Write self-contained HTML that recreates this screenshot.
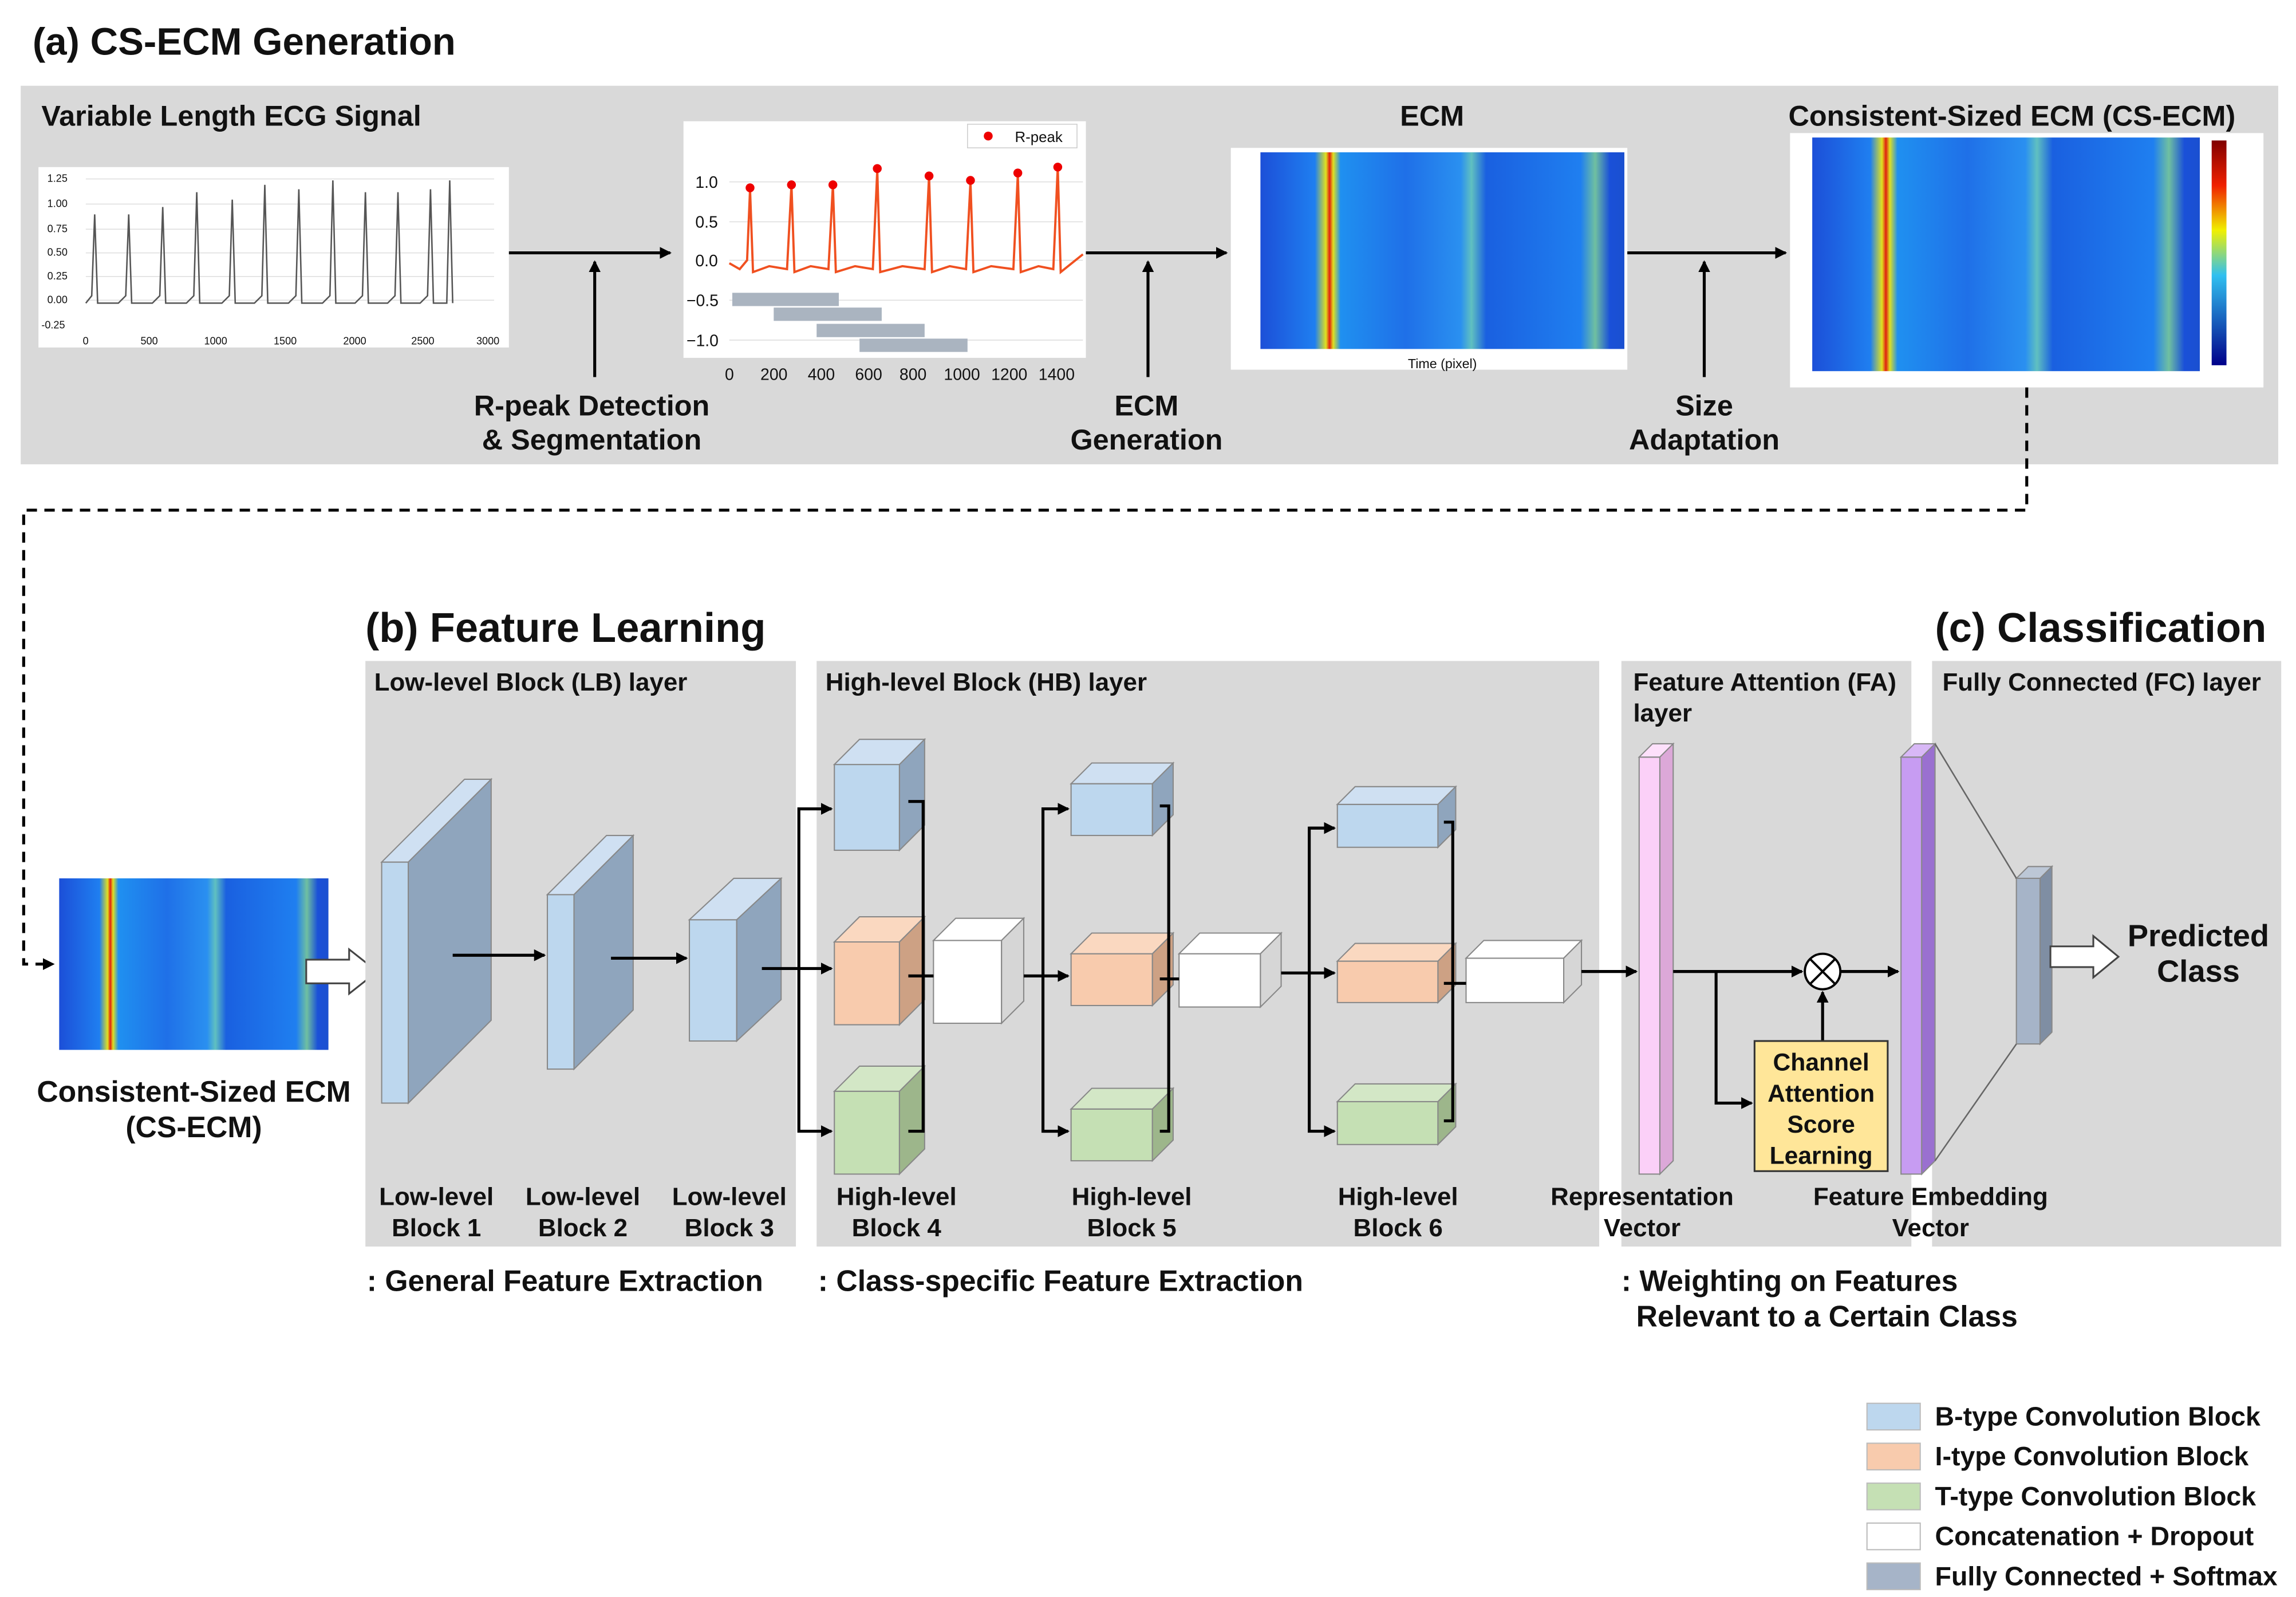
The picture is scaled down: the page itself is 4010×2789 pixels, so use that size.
<!DOCTYPE html>
<html><head><meta charset="utf-8"><style>
html,body{margin:0;padding:0;background:#fff}
svg{display:block}
text{font-family:"Liberation Sans",sans-serif;font-weight:bold;fill:#111}
</style></head><body>
<svg width="4010" height="2789" viewBox="0 0 1552 1080" preserveAspectRatio="none" xmlns="http://www.w3.org/2000/svg">
<defs>
<marker id="ah" markerWidth="8" markerHeight="8" refX="7" refY="4" orient="auto" markerUnits="userSpaceOnUse"><path d="M0,0 L8,4 L0,8 z" fill="#000"/></marker>
<linearGradient id="ecm" x1="0" x2="1" y1="0" y2="0">
<stop offset="0" stop-color="#1c4fd8"/><stop offset="0.15" stop-color="#1f7ff0"/>
<stop offset="0.18" stop-color="#e0e020"/><stop offset="0.19" stop-color="#e02010"/><stop offset="0.2" stop-color="#e0e020"/><stop offset="0.22" stop-color="#1f90f0"/>
<stop offset="0.4" stop-color="#1f70e8"/><stop offset="0.55" stop-color="#2a90f0"/>
<stop offset="0.58" stop-color="#60c0c0"/><stop offset="0.62" stop-color="#1a60e0"/>
<stop offset="0.88" stop-color="#1f7ff0"/><stop offset="0.92" stop-color="#70c0a0"/><stop offset="0.96" stop-color="#1a50d8"/><stop offset="1" stop-color="#1a50d0"/>
</linearGradient>
<linearGradient id="cbar" x1="0" x2="0" y1="0" y2="1">
<stop offset="0" stop-color="#800000"/><stop offset="0.2" stop-color="#f02000"/><stop offset="0.4" stop-color="#f0f000"/><stop offset="0.6" stop-color="#30c0f0"/><stop offset="1" stop-color="#00008a"/>
</linearGradient>
</defs>

<text x="22" y="37" font-size="26">(a) CS-ECM Generation</text>
<rect x="14" y="58" width="1526" height="256" fill="#d9d9d9"/>
<text x="28" y="85" font-size="19.5">Variable Length ECG Signal</text>
<rect x="26" y="113" width="318" height="122" fill="#fff"/>
<g stroke="#ddd" stroke-width="0.6"><line x1="58" y1="121" x2="334" y2="121"/><line x1="58" y1="138" x2="334" y2="138"/><line x1="58" y1="155" x2="334" y2="155"/><line x1="58" y1="171" x2="334" y2="171"/><line x1="58" y1="187" x2="334" y2="187"/><line x1="58" y1="203" x2="334" y2="203"/></g>
<polyline fill="none" stroke="#555" stroke-width="1" points="58,205 62,200 64,145 66,205 80,205 85,200 87,145 89,205 103,205 108,200 110,140 112,205 126,205 131,200 133,130 135,205 150,205 155,200 157,135 159,205 172,205 177,200 179,125 181,205 195,205 200,200 202,128 204,205 218,205 223,200 225,122 227,205 240,205 245,200 247,130 249,205 262,205 267,200 269,130 271,205 284,205 289,200 291,128 293,205 302,205 304,122 306,205"/>
<g font-size="7"><text x="32" y="123" style="font-weight:normal">1.25</text><text x="32" y="140" style="font-weight:normal">1.00</text><text x="32" y="157" style="font-weight:normal">0.75</text><text x="32" y="173" style="font-weight:normal">0.50</text><text x="32" y="189" style="font-weight:normal">0.25</text><text x="32" y="205" style="font-weight:normal">0.00</text><text x="28" y="222" style="font-weight:normal">-0.25</text>
<text x="56" y="233" style="font-weight:normal">0</text><text x="95" y="233" style="font-weight:normal">500</text><text x="138" y="233" style="font-weight:normal">1000</text><text x="185" y="233" style="font-weight:normal">1500</text><text x="232" y="233" style="font-weight:normal">2000</text><text x="278" y="233" style="font-weight:normal">2500</text><text x="322" y="233" style="font-weight:normal">3000</text></g>

<rect x="462" y="82" width="272" height="160" fill="#fff"/>
<rect x="654" y="84" width="74" height="16" fill="#fff" stroke="#ccc" stroke-width="0.6"/>
<circle cx="668" cy="92" r="3" fill="#e00"/><text x="686" y="96" font-size="10" style="font-weight:normal">R-peak</text>
<g stroke="#ddd" stroke-width="0.6"><line x1="493" y1="123" x2="732" y2="123"/><line x1="493" y1="150" x2="732" y2="150"/><line x1="493" y1="176" x2="732" y2="176"/><line x1="493" y1="203" x2="732" y2="203"/><line x1="493" y1="230" x2="732" y2="230"/></g>
<polyline fill="none" stroke="#f05020" stroke-width="1.5" points="493,178 500,182 505,176 507,128 509,184 520,180 532,182 535,125 537,184 548,180 560,182 563,125 565,184 578,180 590,182 593,115 595,184 610,180 625,182 628,119 630,184 642,180 653,182 656,123 658,184 670,180 685,182 688,118 690,184 702,180 712,182 715,113 717,184 732,172"/>
<g fill="#e00"><circle cx="507" cy="127" r="3"/><circle cx="535" cy="125" r="3"/><circle cx="563" cy="125" r="3"/><circle cx="593" cy="114" r="3"/><circle cx="628" cy="119" r="3"/><circle cx="656" cy="122" r="3"/><circle cx="688" cy="117" r="3"/><circle cx="715" cy="113" r="3"/></g>
<g fill="#aab4c0"><rect x="495" y="198" width="72" height="9"/><rect x="523" y="208" width="73" height="9"/><rect x="552" y="219" width="73" height="9"/><rect x="581" y="229" width="73" height="9"/></g>
<g font-size="11"><text x="470" y="127" style="font-weight:normal">1.0</text><text x="470" y="154" style="font-weight:normal">0.5</text><text x="470" y="180" style="font-weight:normal">0.0</text><text x="464" y="207" style="font-weight:normal">−0.5</text><text x="464" y="234" style="font-weight:normal">−1.0</text>
<text x="490" y="257" style="font-weight:normal">0</text><text x="514" y="257" style="font-weight:normal">200</text><text x="546" y="257" style="font-weight:normal">400</text><text x="578" y="257" style="font-weight:normal">600</text><text x="608" y="257" style="font-weight:normal">800</text><text x="638" y="257" style="font-weight:normal">1000</text><text x="670" y="257" style="font-weight:normal">1200</text><text x="702" y="257" style="font-weight:normal">1400</text></g>

<text x="968" y="85" font-size="19.5" text-anchor="middle">ECM</text>
<rect x="832" y="100" width="268" height="150" fill="#fff"/>
<rect x="852" y="103" width="246" height="133" fill="url(#ecm)"/>
<text x="975" y="249" font-size="9" text-anchor="middle" style="font-weight:normal">Time (pixel)</text>

<text x="1360" y="85" font-size="19.5" text-anchor="middle">Consistent-Sized ECM (CS-ECM)</text>
<rect x="1210" y="90" width="320" height="172" fill="#fff"/>
<rect x="1225" y="93" width="262" height="158" fill="url(#ecm)"/>
<rect x="1495" y="95" width="10" height="152" fill="url(#cbar)"/>

<g stroke="#000" stroke-width="2" fill="none">
<line x1="344" y1="171" x2="453" y2="171" marker-end="url(#ah)"/>
<line x1="402" y1="255" x2="402" y2="177" marker-end="url(#ah)"/>
<line x1="734" y1="171" x2="829" y2="171" marker-end="url(#ah)"/>
<line x1="776" y1="255" x2="776" y2="177" marker-end="url(#ah)"/>
<line x1="1100" y1="171" x2="1207" y2="171" marker-end="url(#ah)"/>
<line x1="1152" y1="255" x2="1152" y2="177" marker-end="url(#ah)"/>
</g>
<g font-size="19.5" text-anchor="middle">
<text x="400" y="281">R-peak Detection</text><text x="400" y="304">&amp; Segmentation</text>
<text x="775" y="281">ECM</text><text x="775" y="304">Generation</text>
<text x="1152" y="281">Size</text><text x="1152" y="304">Adaptation</text>
</g>

<polyline points="1370,262 1370,345 16,345 16,652 36,652" fill="none" stroke="#000" stroke-width="2" stroke-dasharray="7,5" marker-end="url(#ah)"/>
<rect x="40" y="594" width="182" height="116" fill="url(#ecm)"/>
<text x="131" y="745" font-size="20" text-anchor="middle">Consistent-Sized ECM</text>
<text x="131" y="769" font-size="20" text-anchor="middle">(CS-ECM)</text>
<polygon points="207,649 236,649 236,642 255,657 236,672 236,665 207,665" fill="#fff" stroke="#444" stroke-width="1.2"/>

<text x="247" y="434" font-size="28">(b) Feature Learning</text>
<text x="1308" y="434" font-size="28">(c) Classification</text>
<rect x="247" y="447" width="291" height="396" fill="#d9d9d9"/>
<rect x="552" y="447" width="529" height="396" fill="#d9d9d9"/>
<rect x="1096" y="447" width="196" height="396" fill="#d9d9d9"/>
<rect x="1306" y="447" width="236" height="396" fill="#d9d9d9"/>
<g font-size="17">
<text x="253" y="467">Low-level Block (LB) layer</text>
<text x="558" y="467">High-level Block (HB) layer</text>
<text x="1104" y="467">Feature Attention (FA)</text><text x="1104" y="488">layer</text>
<text x="1313" y="467">Fully Connected (FC) layer</text>
</g>

<g stroke="#888" stroke-width="0.8">
<rect x="258" y="583" width="18" height="163" fill="#bdd7ee"/>
<polygon points="258,583 314,527 332,527 276,583" fill="#cfe0f2"/>
<polygon points="276,583 332,527 332,690 276,746" fill="#8fa5bd"/>
<rect x="370" y="605" width="18" height="118" fill="#bdd7ee"/>
<polygon points="370,605 410,565 428,565 388,605" fill="#cfe0f2"/>
<polygon points="388,605 428,565 428,683 388,723" fill="#8fa5bd"/>
<rect x="466" y="622" width="32" height="82" fill="#bdd7ee"/>
<polygon points="466,622 496,594 528,594 498,622" fill="#cfe0f2"/>
<polygon points="498,622 528,594 528,676 498,704" fill="#8fa5bd"/>
</g>

<g stroke="#888" stroke-width="0.8">
<rect x="564" y="517" width="44" height="58" fill="#bdd7ee"/><polygon points="564,517 581,500 625,500 608,517" fill="#cfe0f2"/><polygon points="608,517 625,500 625,558 608,575" fill="#8fa5bd"/>
<rect x="564" y="637" width="44" height="56" fill="#f8cbad"/><polygon points="564,637 581,620 625,620 608,637" fill="#fad8c0"/><polygon points="608,637 625,620 625,676 608,693" fill="#cda184"/>
<rect x="564" y="738" width="44" height="56" fill="#c5e0b4"/><polygon points="564,738 581,721 625,721 608,738" fill="#d3e7c6"/><polygon points="608,738 625,721 625,777 608,794" fill="#9db68b"/>
<rect x="631" y="636" width="46" height="56" fill="#fff"/><polygon points="631,636 646,621 692,621 677,636" fill="#fff"/><polygon points="677,636 692,621 692,677 677,692" fill="#d6d6d6"/>
<rect x="724" y="530" width="55" height="35" fill="#bdd7ee"/><polygon points="724,530 738,516 793,516 779,530" fill="#cfe0f2"/><polygon points="779,530 793,516 793,551 779,565" fill="#8fa5bd"/>
<rect x="724" y="645" width="55" height="35" fill="#f8cbad"/><polygon points="724,645 738,631 793,631 779,645" fill="#fad8c0"/><polygon points="779,645 793,631 793,666 779,680" fill="#cda184"/>
<rect x="724" y="750" width="55" height="35" fill="#c5e0b4"/><polygon points="724,750 738,736 793,736 779,750" fill="#d3e7c6"/><polygon points="779,750 793,736 793,771 779,785" fill="#9db68b"/>
<rect x="797" y="645" width="55" height="36" fill="#fff"/><polygon points="797,645 811,631 866,631 852,645" fill="#fff"/><polygon points="852,645 866,631 866,667 852,681" fill="#d6d6d6"/>
<rect x="904" y="544" width="68" height="29" fill="#bdd7ee"/><polygon points="904,544 916,532 984,532 972,544" fill="#cfe0f2"/><polygon points="972,544 984,532 984,561 972,573" fill="#8fa5bd"/>
<rect x="904" y="650" width="68" height="28" fill="#f8cbad"/><polygon points="904,650 916,638 984,638 972,650" fill="#fad8c0"/><polygon points="972,650 984,638 984,666 972,678" fill="#cda184"/>
<rect x="904" y="745" width="68" height="29" fill="#c5e0b4"/><polygon points="904,745 916,733 984,733 972,745" fill="#d3e7c6"/><polygon points="972,745 984,733 984,762 972,774" fill="#9db68b"/>
<rect x="991" y="648" width="66" height="30" fill="#fff"/><polygon points="991,648 1003,636 1069,636 1057,648" fill="#fff"/><polygon points="1057,648 1069,636 1069,666 1057,678" fill="#d6d6d6"/>
<rect x="1108" y="512" width="14" height="282" fill="#fbd0f8"/><polygon points="1108,512 1117,503 1131,503 1122,512" fill="#fde0fb"/><polygon points="1122,512 1131,503 1131,785 1122,794" fill="#dca8d8"/>
<rect x="1285" y="512" width="14" height="282" fill="#c79cf2"/><polygon points="1285,512 1294,503 1308,503 1299,512" fill="#d8b8f6"/><polygon points="1299,512 1308,503 1308,785 1299,794" fill="#9a70d0"/>
<rect x="1363" y="594" width="16" height="112" fill="#a6b4c8"/><polygon points="1363,594 1371,586 1387,586 1379,594" fill="#bcc7d6"/><polygon points="1379,594 1387,586 1387,698 1379,706" fill="#7f8ea3"/>
</g>
<g stroke="#666" stroke-width="1"><line x1="1308" y1="503" x2="1363" y2="594"/><line x1="1308" y1="785" x2="1363" y2="706"/></g>

<g stroke="#000" stroke-width="2" fill="none">
<line x1="306" y1="646" x2="368" y2="646" marker-end="url(#ah)"/>
<line x1="413" y1="648" x2="464" y2="648" marker-end="url(#ah)"/>
<line x1="515" y1="655" x2="562" y2="655" marker-end="url(#ah)"/>
<polyline points="562,547 540,547 540,765 562,765" marker-end="url(#ah)"/>
<line x1="540" y1="547" x2="562" y2="547" marker-end="url(#ah)"/>
<polyline points="614,542 624,542 624,765 614,765"/><line x1="614" y1="660" x2="631" y2="660"/>
<line x1="692" y1="660" x2="722" y2="660" marker-end="url(#ah)"/>
<polyline points="722,765 705,765 705,547 722,547" marker-end="url(#ah)"/>
<line x1="705" y1="765" x2="722" y2="765" marker-end="url(#ah)"/>
<polyline points="784,545 790,545 790,765 784,765"/><line x1="784" y1="662" x2="797" y2="662"/>
<line x1="866" y1="658" x2="902" y2="658" marker-end="url(#ah)"/>
<polyline points="902,560 885,560 885,765 902,765" marker-end="url(#ah)"/>
<line x1="885" y1="560" x2="902" y2="560" marker-end="url(#ah)"/>
<polyline points="976,556 982,556 982,758 976,758"/><line x1="976" y1="665" x2="991" y2="665"/>
<line x1="1069" y1="657" x2="1106" y2="657" marker-end="url(#ah)"/>
<line x1="1131" y1="657" x2="1218" y2="657" marker-end="url(#ah)"/>
<polyline points="1160,657 1160,746 1184,746" marker-end="url(#ah)"/>
<line x1="1244" y1="657" x2="1283" y2="657" marker-end="url(#ah)"/>
<line x1="1232" y1="704" x2="1232" y2="671" marker-end="url(#ah)"/>
<circle cx="1232" cy="657" r="12" fill="#fff" stroke-width="1.5"/>
<line x1="1224" y1="649" x2="1240" y2="665" stroke-width="1.5"/><line x1="1240" y1="649" x2="1224" y2="665" stroke-width="1.5"/>
</g>
<rect x="1186" y="704" width="90" height="88" fill="#ffe699" stroke="#333" stroke-width="1.2"/>
<g font-size="16.5" text-anchor="middle"><text x="1231" y="724">Channel</text><text x="1231" y="745">Attention</text><text x="1231" y="766">Score</text><text x="1231" y="787">Learning</text></g>
<polygon points="1386,640 1415,640 1415,633 1432,647 1415,661 1415,654 1386,654" fill="#fff" stroke="#444" stroke-width="1.2"/>
<g font-size="21" text-anchor="middle"><text x="1486" y="640">Predicted</text><text x="1486" y="664">Class</text></g>

<g font-size="17" text-anchor="middle">
<text x="295" y="815">Low-level</text><text x="295" y="836">Block 1</text>
<text x="394" y="815">Low-level</text><text x="394" y="836">Block 2</text>
<text x="493" y="815">Low-level</text><text x="493" y="836">Block 3</text>
<text x="606" y="815">High-level</text><text x="606" y="836">Block 4</text>
<text x="765" y="815">High-level</text><text x="765" y="836">Block 5</text>
<text x="945" y="815">High-level</text><text x="945" y="836">Block 6</text>
<text x="1110" y="815">Representation</text><text x="1110" y="836">Vector</text>
<text x="1305" y="815">Feature Embedding</text><text x="1305" y="836">Vector</text>
</g>
<g font-size="20">
<text x="248" y="873">: General Feature Extraction</text>
<text x="553" y="873">: Class-specific Feature Extraction</text>
<text x="1096" y="873">: Weighting on Features</text>
<text x="1106" y="897">Relevant to a Certain Class</text>
</g>

<g stroke="#bbb" stroke-width="0.8">
<rect x="1262" y="949" width="36" height="18" fill="#bdd7ee"/>
<rect x="1262" y="976" width="36" height="18" fill="#f8cbad"/>
<rect x="1262" y="1003" width="36" height="18" fill="#c5e0b4"/>
<rect x="1262" y="1030" width="36" height="18" fill="#fff"/>
<rect x="1262" y="1057" width="36" height="18" fill="#a6b4c8"/>
</g>
<g font-size="18">
<text x="1308" y="964">B-type Convolution Block</text>
<text x="1308" y="991">I-type Convolution Block</text>
<text x="1308" y="1018">T-type Convolution Block</text>
<text x="1308" y="1045">Concatenation + Dropout</text>
<text x="1308" y="1072">Fully Connected + Softmax</text>
</g>
</svg>
</body></html>
